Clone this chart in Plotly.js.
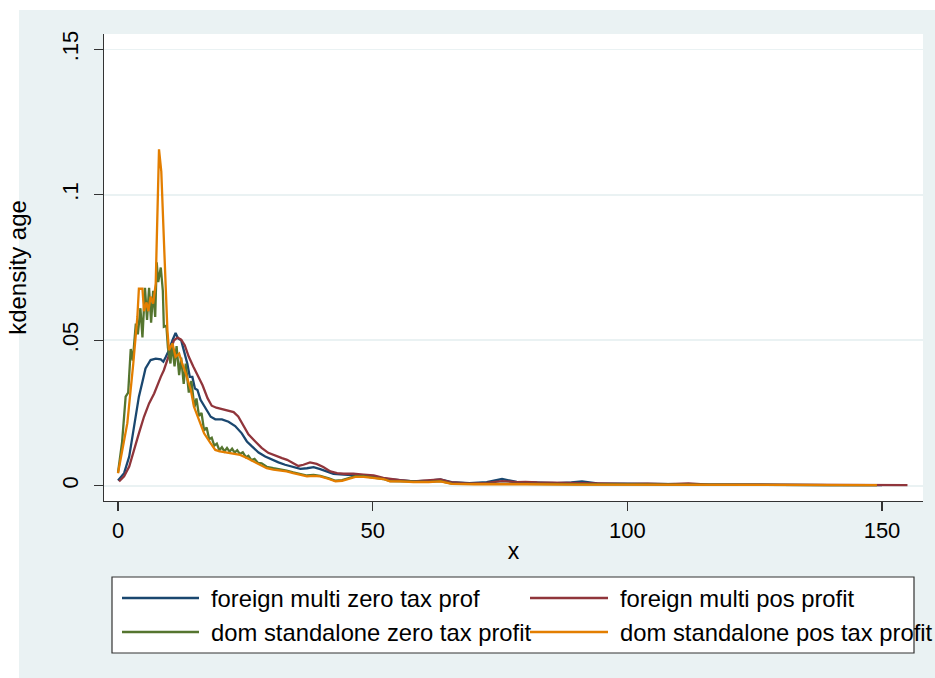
<!DOCTYPE html>
<html><head><meta charset="utf-8">
<script src="https://cdn.plot.ly/plotly-3.0.1.min.js"></script>
<style>html,body{margin:0;padding:0;background:#fff}#chart{width:935px;height:678px}</style>
</head><body><div id="chart"></div>
<script>
// ---- data ----
const seriesNames = ["foreign multi zero tax prof", "foreign multi pos profit",
                     "dom standalone zero tax profit", "dom standalone pos tax profit"];

const blueX = [0,1.2,2.2,3.1,4.1,4.8,5.4,6.4,7.4,8.4,8.9,9.4,10.0,10.7,11.3,11.8,12.4,13.0,13.6,14.1,14.6,15.1,15.6,16.2,16.9,17.6,18.2,19.1,20.4,21.7,23.0,24.3,25.3,26.3,27.6,28.9,30.2,31.5,32.8,34.1,35.8,37.1,38.4,39.7,41.0,42.3,44.3,46.9,49.5,52.1,55.4,58.0,61,63.3,65.5,69,72.4,75.4,78.3,82.3,86.2,89,91.1,94.1,100,105,110,115,120,130,140,150];
const blueY = [0.0018,0.0043,0.010,0.0203,0.0306,0.0357,0.0403,0.0432,0.0437,0.0434,0.0426,0.0443,0.0466,0.050,0.0525,0.0506,0.050,0.046,0.042,0.0374,0.0374,0.0334,0.0329,0.0295,0.0275,0.0250,0.0237,0.0228,0.0228,0.0220,0.0205,0.0180,0.0152,0.0135,0.0114,0.0100,0.0089,0.0080,0.0072,0.0066,0.0058,0.0060,0.0064,0.0057,0.0049,0.0041,0.0038,0.0035,0.0033,0.0024,0.0018,0.0015,0.0017,0.0022,0.0012,0.0009,0.0012,0.0023,0.0013,0.0012,0.0009,0.0011,0.0015,0.0008,0.0006,0.0005,0.0005,0.0004,0.0003,0.0003,0.0002,0.0002];

const redX = [0.2,1.2,2.2,3.1,4.1,5.1,6.1,7.1,7.7,8.4,9.0,9.7,10.3,11.0,11.7,12.4,13.1,13.9,14.8,15.6,16.6,17.6,18.4,19.3,20.0,21.3,22.7,23.6,24.6,25.6,26.9,28.2,29.5,30.8,32.2,33.2,34.4,35.4,36.4,37.7,39.0,40.3,41.7,43.0,44.3,46.2,48.2,50.2,52.1,54.1,55.4,58,61,63.3,65.5,69,72.4,75.4,78.3,80,82.3,86.2,91,94,100,104,108,112,116,125,135,145,155];
const redY = [0.0015,0.0032,0.0066,0.0123,0.018,0.0237,0.0283,0.0317,0.0346,0.0374,0.0397,0.0432,0.0466,0.050,0.0509,0.0502,0.0483,0.0443,0.0409,0.038,0.0345,0.030,0.0275,0.0268,0.0265,0.026,0.0253,0.0238,0.0205,0.0177,0.0153,0.013,0.0113,0.0103,0.0095,0.0089,0.0078,0.0068,0.0072,0.008,0.0075,0.0064,0.0049,0.0043,0.0041,0.0041,0.0038,0.0035,0.0027,0.0021,0.0019,0.0015,0.0018,0.0022,0.0011,0.0008,0.0010,0.0016,0.0012,0.0013,0.0011,0.0010,0.0011,0.0008,0.0006,0.0007,0.0005,0.0008,0.0004,0.0003,0.0003,0.0002,0.0002];

const greenX = [0,0.8,1.5,2.0,2.5,2.9,3.5,3.9,4.4,4.8,5.3,5.7,6.1,6.5,6.9,7.3,7.6,7.9,8.4,8.8,9.0,9.5,9.8,10.3,10.6,11.1,11.5,12.0,12.4,12.9,13.3,13.9,14.4,15.0,15.4,15.9,16.4,16.9,17.4,17.9,18.4,18.9,19.4,19.9,20.4,20.9,21.4,21.9,22.4,22.9,23.4,23.9,24.5,25.1,25.6,26.2,26.8,27.5,28.2,29.2,30.5,31.8,33.1,34.4,35.8,37.1,38.4,39.7,41.4,42.7,44.0,45.3,46.6,48.2,50.2,52.1,53.4,55.4,58,61,63.3,65.5,70,75,80,90,100,110,120,130,140,149];
const greenY = [0.0045,0.015,0.0306,0.032,0.047,0.043,0.0557,0.052,0.061,0.051,0.068,0.057,0.068,0.056,0.067,0.058,0.0768,0.070,0.075,0.067,0.0546,0.055,0.0475,0.042,0.049,0.041,0.048,0.038,0.044,0.035,0.042,0.032,0.036,0.027,0.030,0.024,0.025,0.019,0.020,0.016,0.0165,0.0138,0.0145,0.0122,0.0132,0.0118,0.013,0.0117,0.0127,0.0114,0.0122,0.0109,0.0115,0.0098,0.0103,0.0088,0.0092,0.0078,0.0077,0.0065,0.006,0.0057,0.0052,0.0046,0.004,0.0035,0.0037,0.0034,0.0025,0.0017,0.0019,0.0026,0.0033,0.0033,0.0028,0.0023,0.0016,0.0015,0.0013,0.0013,0.0016,0.0007,0.0006,0.0007,0.0006,0.0005,0.0004,0.0004,0.0003,0.0002,0.0002,0.0002];

const orangeX = [0,1.83,3.0,3.8,4.1,4.8,5.1,5.6,5.96,6.4,6.9,7.4,8.05,8.5,9.04,9.7,10.0,10.7,11.3,12.0,12.6,13.3,14.3,14.9,15.9,16.9,18.1,19.1,20.0,21.3,22.7,24.0,25.3,26.6,27.9,29.2,30.5,31.8,33.1,34.4,35.8,37.1,38.4,39.7,41.4,42.7,44.0,45.3,46.6,48.2,50.2,52.1,53.4,55.4,58,61,63.3,65.5,70,75,80,90,100,110,120,130,140,149];
const orangeY = [0.0043,0.0215,0.042,0.058,0.0677,0.0677,0.060,0.063,0.060,0.065,0.0626,0.0694,0.1156,0.108,0.083,0.0534,0.0466,0.0489,0.0443,0.0454,0.042,0.0386,0.0329,0.0272,0.0226,0.0180,0.0148,0.0123,0.0118,0.0114,0.0112,0.0106,0.0095,0.0083,0.0072,0.006,0.0055,0.0053,0.0049,0.0043,0.0038,0.0032,0.0034,0.0032,0.0023,0.0015,0.0017,0.0023,0.003,0.003,0.0027,0.0023,0.0015,0.0015,0.0012,0.0012,0.0015,0.0006,0.0005,0.0006,0.0005,0.0004,0.0004,0.0003,0.0003,0.0002,0.0002,0.0002];

const xTickVals = [0, 50, 100, 150];
const xTickText = ["0", "50", "100", "150"];
const yTickVals = [0, 0.05, 0.1, 0.15];
const yTickText = ["0", ".05", ".1", ".15"];
const colors = ["#1a476f", "#90353b", "#55752f", "#e37e00"];

// ---- layout geometry ----
const W = 935, H = 678, ML = 104, MR = 12, MT = 34, MB = 177;
const PW = W - ML - MR, PH = H - MT - MB;
const px = X => (X - ML) / PW;
const py = Y => (H - MB - Y) / PH;
const FONT = "Liberation Sans, Arial, Helvetica, sans-serif";

const xs = [blueX, redX, greenX, orangeX];
const ys = [blueY, redY, greenY, orangeY];
const traces = xs.map((x, i) => ({
  x: x, y: ys[i], type: "scatter", mode: "lines", name: seriesNames[i],
  line: {color: colors[i], width: 2.3}, showlegend: false, hoverinfo: "skip"
}));

// custom Stata-like legend (2 columns x 2 rows)
const legRows = [598, 632];
const legCols = [{l0: 122, l1: 199, t: 209}, {l0: 530, l1: 608, t: 618}];
const shapes = [
  {type: "rect", xref: "paper", yref: "paper", x0: px(0), x1: px(19), y0: py(H), y1: py(0),
   fillcolor: "#ffffff", line: {width: 0}, layer: "below"},
  {type: "rect", xref: "paper", yref: "paper", x0: px(0), x1: px(W), y0: py(10), y1: py(0),
   fillcolor: "#ffffff", line: {width: 0}, layer: "below"},
  {type: "rect", xref: "paper", yref: "paper", x0: px(112), x1: px(914), y0: py(653), y1: py(577),
   fillcolor: "#ffffff", line: {color: "#333333", width: 1.2}, layer: "above"}
];
const annotations = [];
for (let i = 0; i < 4; i++) {
  const r = legRows[Math.floor(i / 2)], c = legCols[i % 2];
  shapes.push({type: "line", xref: "paper", yref: "paper", x0: px(c.l0), x1: px(c.l1),
    y0: py(r), y1: py(r), line: {color: colors[i], width: 2.3}, layer: "above"});
  annotations.push({xref: "paper", yref: "paper", x: px(c.t), y: py(r), xanchor: "left",
    yanchor: "middle", text: seriesNames[i], showarrow: false,
    font: {family: FONT, size: 23.8, color: "#000"}});
}

const layout = {
  width: W, height: H,
  margin: {l: ML, r: MR, t: MT, b: MB, pad: 0},
  paper_bgcolor: "#eaf2f3", plot_bgcolor: "#ffffff",
  font: {family: FONT, color: "#000"},
  showlegend: false,
  xaxis: {
    range: [-2.75, 158.05], tickvals: xTickVals, ticktext: xTickText,
    ticks: "outside", ticklen: 9, tickwidth: 1.2, tickcolor: "#333",
    showline: true, linecolor: "#333", linewidth: 1.3, mirror: false,
    showgrid: false, zeroline: false, automargin: false,
    tickfont: {family: FONT, size: 22, color: "#000"},
    title: {text: "x", font: {family: FONT, size: 23, color: "#000"}, standoff: 1}
  },
  yaxis: {
    range: [-0.00526, 0.15526], tickvals: yTickVals, ticktext: yTickText,
    tickangle: -90, ticklabelstandoff: 7,
    ticks: "outside", ticklen: 9, tickwidth: 1.2, tickcolor: "#333",
    showline: true, linecolor: "#333", linewidth: 1.3, mirror: false,
    showgrid: true, gridcolor: "#eaf2f3", gridwidth: 1.6,
    zeroline: false, automargin: false,
    tickfont: {family: FONT, size: 22, color: "#000"},
    title: {text: "kdensity age", font: {family: FONT, size: 24, color: "#000"}, standoff: 24}
  },
  shapes: shapes,
  annotations: annotations
};

Plotly.newPlot("chart", traces, layout, {staticPlot: true, displayModeBar: false});
</script>
</body></html>
